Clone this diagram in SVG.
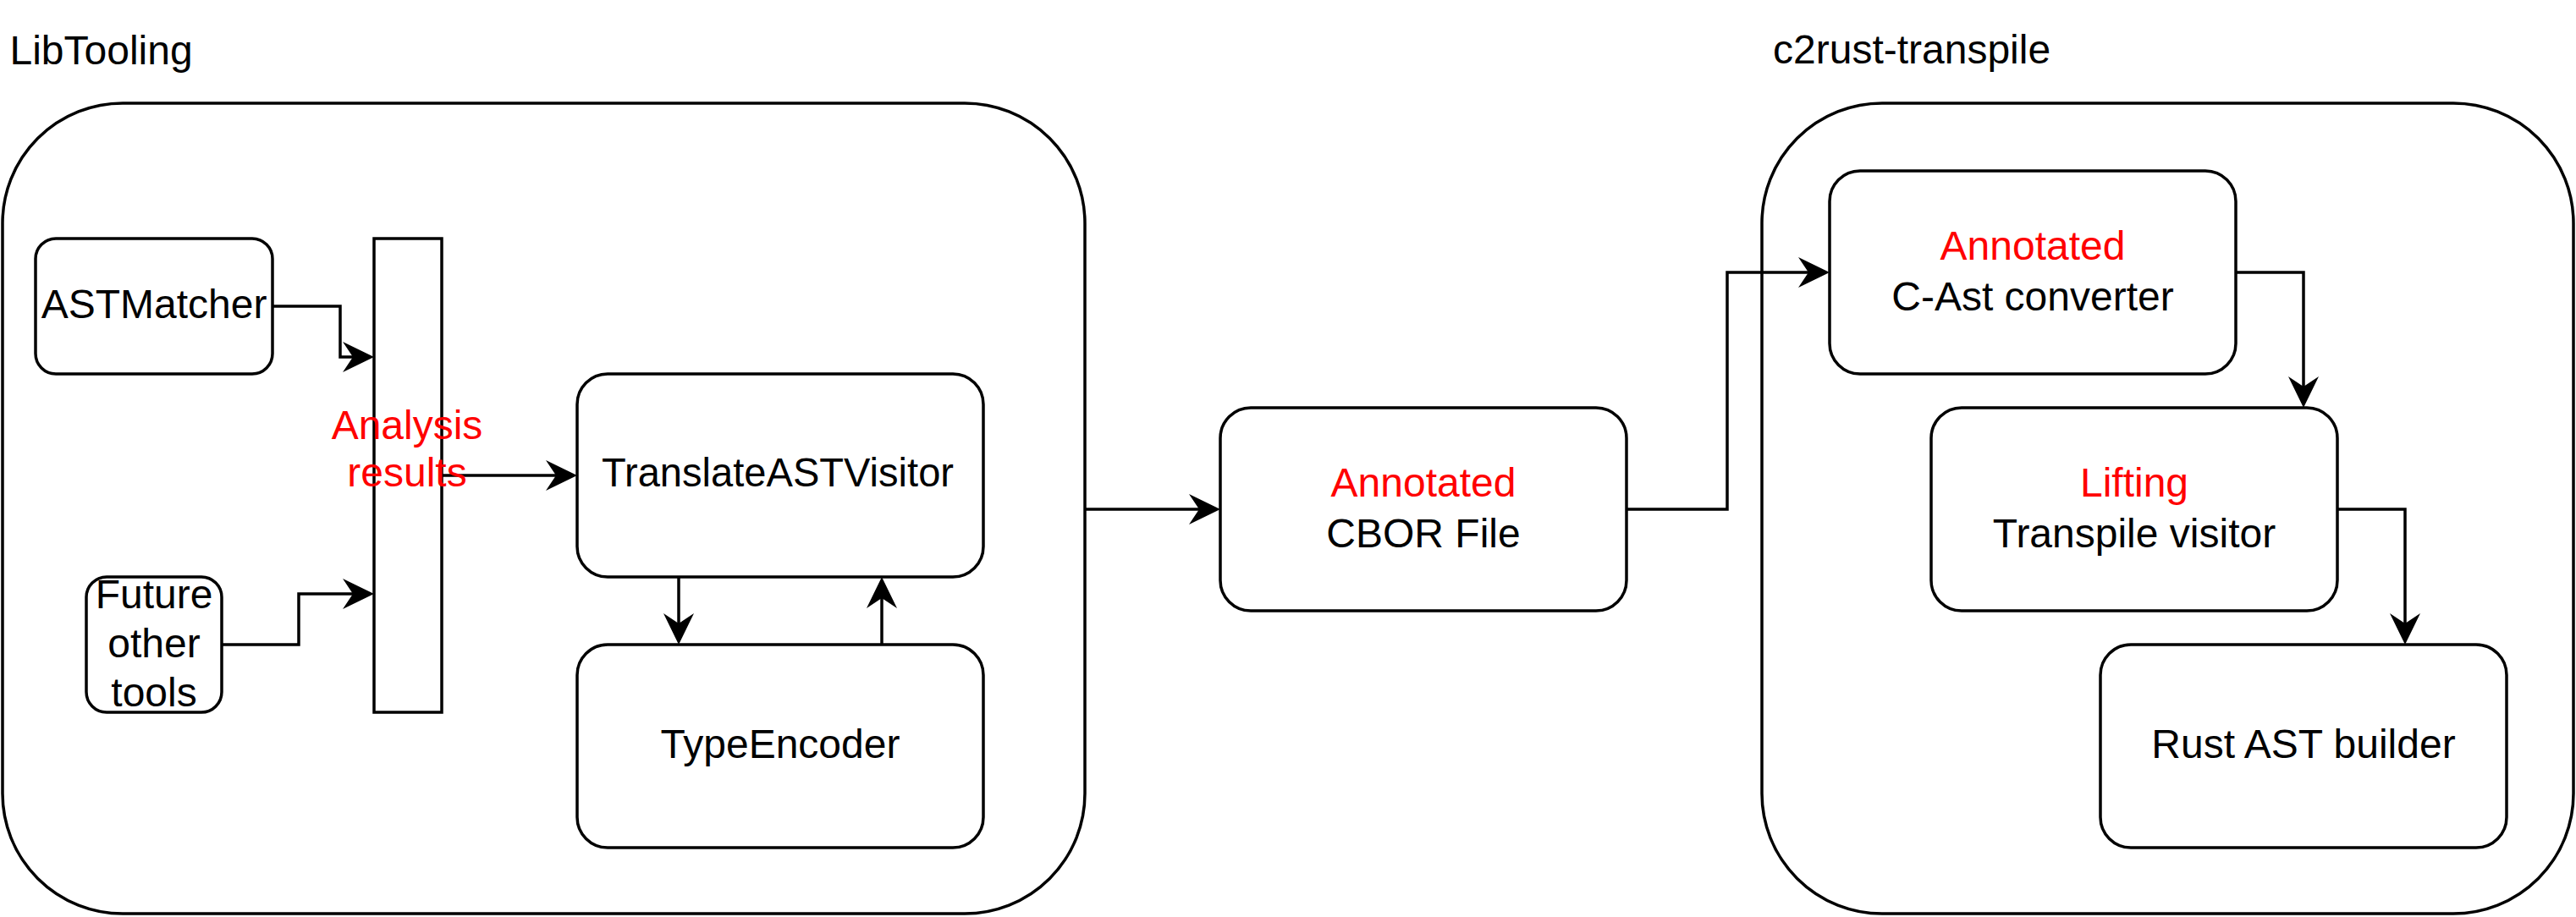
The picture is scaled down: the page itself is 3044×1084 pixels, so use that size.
<svg xmlns="http://www.w3.org/2000/svg" width="3044" height="1084" viewBox="0 0 3044 1084">
<defs>
<style>
.box{fill:#ffffff;stroke:#000000;stroke-width:3.5}
.edge{fill:none;stroke:#000000;stroke-width:3.5}
text{font-family:"Liberation Sans",Arial,Helvetica,sans-serif;font-size:48px;fill:#000000}
.c{text-anchor:middle}
.red{fill:#FF0000}
</style>
<marker id="arr" markerUnits="userSpaceOnUse" viewBox="-40 -20 44 40" markerWidth="44" markerHeight="40" refX="-20" refY="0" orient="auto">
<path d="M0,0 L-37,-18 L-25,0 L-37,18 Z" fill="#000000"/>
</marker>
</defs>
<rect width="3044" height="1084" fill="#ffffff"/>
<g id="libtooling">
<rect class="box" x="3" y="122" width="1279" height="958" rx="142" ry="142"/>
<text x="11.5" y="76">LibTooling</text>
</g>
<g id="c2rust-transpile">
<rect class="box" x="2082" y="122" width="959" height="958" rx="142" ry="142"/>
<text x="2095" y="75">c2rust-transpile</text>
</g>
<g id="connectors">
<path class="edge" d="M322,362 H402 V422 H422" marker-end="url(#arr)"/>
<path class="edge" d="M262,762 H353 V702 H422" marker-end="url(#arr)"/>
<path class="edge" d="M522,562 H662" marker-end="url(#arr)"/>
<path class="edge" d="M802,682 V742" marker-end="url(#arr)"/>
<path class="edge" d="M1042,762 V702" marker-end="url(#arr)"/>
<path class="edge" d="M1282,602 H1422" marker-end="url(#arr)"/>
<path class="edge" d="M1922,602 H2041 V322 H2142" marker-end="url(#arr)"/>
<path class="edge" d="M2642,322 H2722 V462" marker-end="url(#arr)"/>
<path class="edge" d="M2762,602 H2842 V742" marker-end="url(#arr)"/>
</g>
<g id="astmatcher">
<rect class="box" x="42" y="282" width="280" height="160" rx="24" ry="24"/>
<text class="c" x="182" y="376">ASTMatcher</text>
</g>
<g id="future-other-tools">
<rect class="box" x="102" y="682" width="160" height="160" rx="24" ry="24"/>
<text class="c" x="182" y="719">Future</text>
<text class="c" x="182" y="777">other</text>
<text class="c" x="182" y="835">tools</text>
</g>
<g id="analysis-results">
<rect class="box" x="442" y="282" width="80" height="560" style="fill:none"/>
<text class="c red" x="481" y="519">Analysis</text>
<text class="c red" x="481" y="575">results</text>
</g>
<g id="translate-ast-visitor">
<rect class="box" x="682" y="442" width="480" height="240" rx="36" ry="36"/>
<text class="c" x="919" y="575" textLength="416" lengthAdjust="spacingAndGlyphs">TranslateASTVisitor</text>
</g>
<g id="type-encoder">
<rect class="box" x="682" y="762" width="480" height="240" rx="36" ry="36"/>
<text class="c" x="922" y="896">TypeEncoder</text>
</g>
<g id="cbor-file">
<rect class="box" x="1442" y="482" width="480" height="240" rx="36" ry="36"/>
<text class="c red" x="1682" y="587">Annotated</text>
<text class="c" x="1682" y="647">CBOR File</text>
</g>
<g id="c-ast-converter">
<rect class="box" x="2162" y="202" width="480" height="240" rx="36" ry="36"/>
<text class="c red" x="2402" y="307">Annotated</text>
<text class="c" x="2402" y="367">C-Ast converter</text>
</g>
<g id="transpile-visitor">
<rect class="box" x="2282" y="482" width="480" height="240" rx="36" ry="36"/>
<text class="c red" x="2522" y="587">Lifting</text>
<text class="c" x="2522" y="647">Transpile visitor</text>
</g>
<g id="rust-ast-builder">
<rect class="box" x="2482" y="762" width="480" height="240" rx="36" ry="36"/>
<text class="c" x="2722" y="896">Rust AST builder</text>
</g>
</svg>
